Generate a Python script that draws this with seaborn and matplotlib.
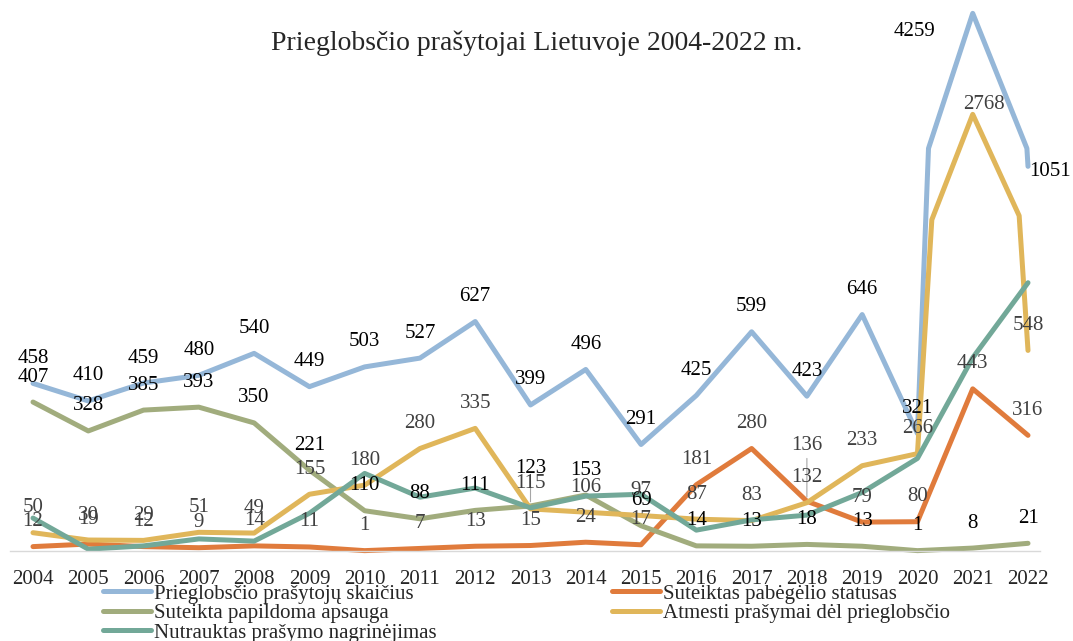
import numpy as np
import pandas as pd
import seaborn as sns
import matplotlib.pyplot as plt

sns.set_style("white")
plt.rcParams['font.family'] = ['Liberation Serif', 'DejaVu Serif']

# Data
years = list(range(2004, 2023))

s_blue = "Prieglobsčio prašytojų skaičius"
s_orange = "Suteiktas pabėgėlio statusas"
s_olive = "Suteikta papildoma apsauga"
s_gold = "Atmesti prašymai dėl prieglobsčio"
s_teal = "Nutrauktas prašymo nagrinėjimas"

applicants = [458, 410, 459, 480, 540, 449, 503, 527, 627, 399, 496, 291, 425, 599, 423, 646, 321, 4259, 1051]
refugee = [12, 19, 12, 9, 14, 11, 1, 7, 13, 15, 24, 17, 181, 280, 136, 79, 80, 443, 316]
subsidiary = [407, 328, 385, 393, 350, 221, 110, 88, 111, 123, 153, 69, 14, 13, 18, 13, 1, 8, 21]
rejected = [50, 30, 29, 51, 49, 155, 180, 280, 335, 115, 106, 97, 87, 83, 132, 233, 266, 2768, 548]
# this series has no data labels in the picture, values estimated from the line
discontinued = [90, 5, 14, 33, 27, 103, 212, 147, 172, 118, 150, 155, 57, 85, 98, 160, 253, 528, 733]

# extra bends the original drawing has between 2020 and 2022
applicants_bend_x = [2020.2, 2021.98]
applicants_bend_y = [1100, 1100]
rejected_bend_x = [2020.26, 2021.84]
rejected_bend_y = [905, 916]

colors = {
    s_blue: "#95B7D8",
    s_orange: "#E07B3C",
    s_olive: "#A1AC7D",
    s_gold: "#E0B65A",
    s_teal: "#72A898",
}
label_colors = {s_blue: "#000000", s_olive: "#000000", s_gold: "#404040", s_orange: "#404040"}

# Build long table
rows = []
for name, vals in [(s_blue, applicants), (s_orange, refugee), (s_olive, subsidiary),
                   (s_gold, rejected), (s_teal, discontinued)]:
    for y, v in zip(years, vals):
        rows.append((name, y, v))
for x, v in zip(applicants_bend_x, applicants_bend_y):
    rows.append((s_blue, x, v))
for x, v in zip(rejected_bend_x, rejected_bend_y):
    rows.append((s_gold, x, v))
df = pd.DataFrame(rows, columns=['series', 'year', 'value'])

# the picture squeezes everything above ~1100
scale_in = [-1000, 0, 1100, 2768, 4259, 10000]
scale_out = [-1000, 0, 1100, 1193, 1469, 2531]
fwd = lambda v: np.interp(v, scale_in, scale_out)
inv = lambda v: np.interp(v, scale_out, scale_in)

W, H = 1073, 641
fig = plt.figure(figsize=(W / 100, H / 100), dpi=100)
ax = fig.add_axes([10 / W, 90 / H, 1030 / W, 551 / H])
ax.set_yscale('function', functions=(fwd, inv))

draw_order = [s_blue, s_orange, s_olive, s_gold, s_teal]
sns.lineplot(data=df, x='year', y='value', hue='series', hue_order=draw_order,
             palette=colors, estimator=None, sort=True, linewidth=3.6,
             legend=False, ax=ax)
for ln in ax.get_lines():
    ln.set_solid_capstyle('round')
    ln.set_solid_joinstyle('round')
    ln.set_clip_on(False)

ax.set_xlim(2004 - 23 / 55.28, 2022 + 12 / 55.28)
ax.set_ylim(0, inv(551 / 0.366))

# data labels
special = {
    (s_blue, 2021): (-42, -13),
    (s_gold, 2021): (8, 7),
    (s_blue, 2022): (16, -4),
    (s_olive, 2013): (0, 27),
    (s_orange, 2018): (0, 40),
}
leaders = {(s_olive, 2013), (s_orange, 2018)}
for name, vals in [(s_blue, applicants), (s_orange, refugee), (s_olive, subsidiary), (s_gold, rejected)]:
    for y, v in zip(years, vals):
        off = special.get((name, y), (0, 18))
        kw = {}
        if (name, y) in leaders:
            kw['arrowprops'] = dict(arrowstyle='-', color='#A6A6A6', lw=0.8, shrinkA=0, shrinkB=3)
        ax.annotate(str(v), (y, v), xytext=off, textcoords='offset points',
                    ha='center', va='center', fontsize=15, color=label_colors[name], **kw)

ax.set_xticks(years)
ax.set_xticklabels([str(y) for y in years], fontsize=15)
ax.tick_params(axis='x', length=0, pad=14)
ax.set_yticks([])
ax.set_xlabel('')
ax.set_ylabel('')
for side in ['top', 'right', 'left']:
    ax.spines[side].set_visible(False)
ax.spines['bottom'].set_color('#D9D9D9')
ax.spines['bottom'].set_linewidth(1)
ax.patch.set_alpha(0)

fig.text(0.5, 1 - 43 / H, "Prieglobsčio prašytojai Lietuvoje 2004-2022 m.",
         ha='center', va='center', fontsize=20)

# legend, column by column
lines = {ln_name: plt.Line2D([], [], color=colors[ln_name], lw=3.6, solid_capstyle='round')
         for ln_name in draw_order}
leg_order = [s_blue, s_olive, s_teal, s_orange, s_gold]
fig.legend([lines[n] for n in leg_order], leg_order, ncol=2, loc='upper left',
           bbox_to_anchor=(103 / W, 1 - 584 / H), frameon=False, fontsize=15,
           handlelength=2.3, handletextpad=0.15, columnspacing=8.4,
           labelspacing=0.0, borderpad=0, borderaxespad=0)

fig.savefig("out.png", dpi=100)
